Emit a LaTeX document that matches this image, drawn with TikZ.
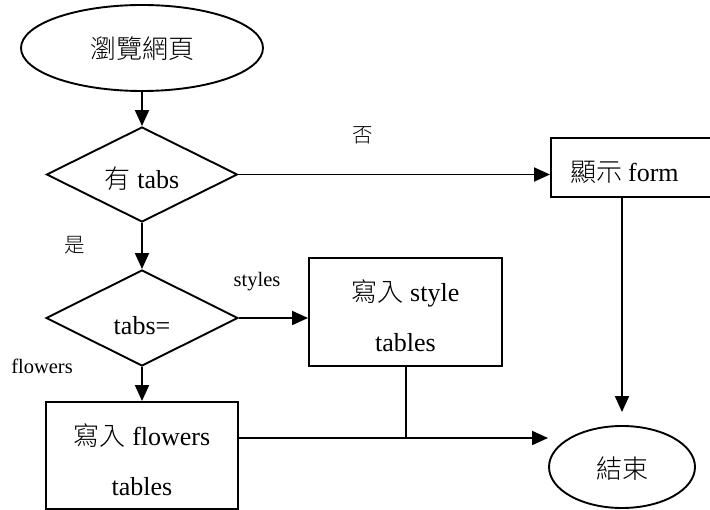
\documentclass[tikz,border=0pt]{standalone}
\usepackage{fontspec}
\setmainfont{Liberation Serif}
\newfontfamily\cjk{Noto Sans CJK TC}[UprightFont=* Light]
\usetikzlibrary{shapes.geometric,arrows.meta}

\begin{document}
\begin{tikzpicture}[x=1pt,y=-1pt,
  every node/.style={font=\fontsize{26}{50}\selectfont, inner sep=0pt},
  flowline/.style={line width=1.9pt},
  arr/.style={flowline, -{Triangle[length=16pt,width=14pt]}},
  oval/.style={ellipse, draw, line width=1.9pt},
  choice/.style={diamond, aspect=2, draw, line width=1.9pt},
  proc/.style={rectangle, draw, line width=1.9pt, align=center},
  lab/.style={font=\fontsize{20.5}{24}\selectfont}]
\useasboundingbox (0,0) rectangle (710,510);
\clip (0,0) rectangle (710,510);

% terminals
\node[oval, minimum width=242pt, minimum height=86pt, text height=23pt, text depth=1pt]
  (start) at (142,48) {{\cjk 瀏覽網頁}};
\node[oval, minimum width=146pt, minimum height=82pt, text height=25pt, text depth=1pt]
  (end) at (622,467) {{\cjk 結束}};

% decisions
\node[choice, minimum width=191pt, minimum height=95pt, text height=30pt, text depth=1pt]
  (d1) at (142,174.5) {{\cjk 有} tabs};
\node[choice, minimum width=192pt, minimum height=96pt, text height=34pt, text depth=0pt]
  (d2) at (142,318) {tabs=};

% processes
\node[proc, anchor=west, minimum width=175pt, minimum height=59pt,
      text width=135pt, inner xsep=20pt, align=left, text height=29pt, text depth=1pt]
  (form) at (550,167.5) {{\cjk 顯示}\hspace{0.2em}form};
\node[proc, minimum width=193pt, minimum height=108pt]
  (style) at (405.5,312) {\rule{0pt}{30pt}{\cjk 寫入} style\\tables};
\node[proc, minimum width=192pt, minimum height=107pt]
  (flow) at (142,455.5) {\rule{0pt}{31pt}{\cjk 寫入} flowers\\tables};

% junction where the two process branches meet
\coordinate (j) at (406,438);

% connectors
\draw[arr] (start.south) -- (d1.north);
\draw[arr] (d1.east) -- (form.west |- d1.east);
\draw[arr] (d1.south) -- (d2.north);
\draw[arr] (d2.east) -- (style.west |- d2.east);
\draw[arr] (d2.south) -- (flow.north);
\draw[arr, shorten >=13pt] (end.north |- form.south) -- (end.north);
\draw[flowline] (style.south -| j) -- (j);
\draw[arr] (flow.east |- j) -- (end.west |- j);

% branch labels
\node[lab] (no) at (363,135) {{\cjk 否}};
\node[lab] (yes) at (75,245) {{\cjk 是}};
\node[lab] (lstyles) at (257,282) {styles};
\node[lab] (lflowers) at (42,366) {flowers};
\end{tikzpicture}
\end{document}
